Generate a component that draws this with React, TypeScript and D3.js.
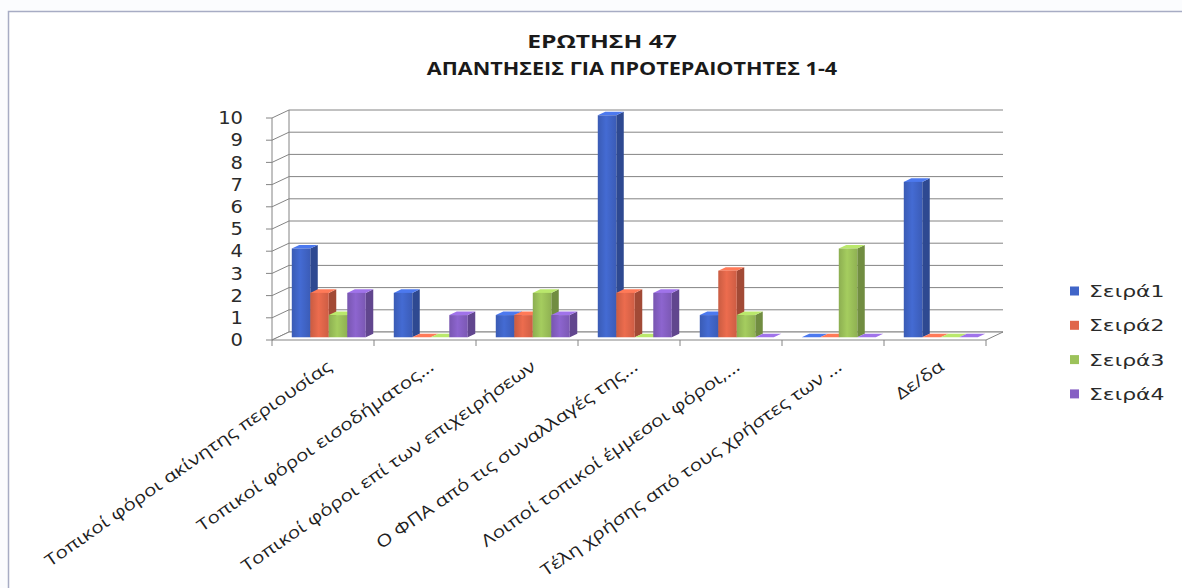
import React from "react";
import * as d3 from "d3";

const categories = [
  "Τοπικοί φόροι ακίνητης περιουσίας",
  "Τοπικοί φόροι εισοδήματος...",
  "Τοπικοί φόροι επί των επιχειρήσεων",
  "Ο ΦΠΑ από τις συναλλαγές της...",
  "Λοιποί τοπικοί έμμεσοι φόροι,...",
  "Τέλη χρήσης από τους χρήστες των ...",
  "Δε/δα",
];
const seriesNames = ["Σειρά1", "Σειρά2", "Σειρά3", "Σειρά4"];
const serie1 = [4, 2, 1, 10, 1, 0, 7];
const serie2 = [2, 0, 1, 2, 3, 0, 0];
const serie3 = [1, 0, 2, 0, 1, 4, 0];
const serie4 = [2, 1, 1, 2, 0, 0, 0];
const seriesValues = [serie1, serie2, serie3, serie4];
const yTicks = [0, 1, 2, 3, 4, 5, 6, 7, 8, 9, 10];
const titleLines = ["ΕΡΩΤΗΣΗ 47", "ΑΠΑΝΤΗΣΕΙΣ ΓΙΑ ΠΡΟΤΕΡΑΙΟΤΗΤΕΣ 1-4"];

const colors = ["#4065c8", "#e0664a", "#9cc25a", "#8660c4"];

const W = 1182;
const H = 588;
const DX = 17;
const DY = -8;
const F1 = 0.34; // bar front depth fraction
const F2 = 0.78; // bar back depth fraction

export default function App() {
  const x = d3.scaleBand<string>().domain(categories).range([272, 986]);
  const y = d3.scaleLinear().domain([0, 10]).range([340, 118]);
  const inner = d3
    .scaleBand<string>()
    .domain(seriesNames)
    .range([14, x.bandwidth() - 14]);

  const gridColor = "#848484";
  const [x0, x1] = x.range();

  const bars: JSX.Element[] = [];
  categories.forEach((c, ci) => {
    seriesNames.forEach((s, si) => {
      const v = seriesValues[si][ci];
      const bx = (x(c) as number) + (inner(s) as number) + DX * F1;
      const bw = inner.bandwidth();
      const yt = y(v) + DY * F1;
      const yb = y(0) + DY * F1;
      const ddx = DX * (F2 - F1);
      const ddy = DY * (F2 - F1);
      const col = d3.color(colors[si])!;
      const side = col.darker(0.9).formatHex();
      const top = col.brighter(0.5).formatHex();
      bars.push(
        <g key={`${ci}-${si}`}>
          <path
            d={`M${bx + bw},${yb} L${bx + bw + ddx},${yb + ddy} L${bx + bw + ddx},${yt + ddy} L${bx + bw},${yt} Z`}
            fill={side}
          />
          <path
            d={`M${bx},${yt} L${bx + ddx},${yt + ddy} L${bx + bw + ddx},${yt + ddy} L${bx + bw},${yt} Z`}
            fill={top}
          />
          <rect x={bx} y={yt} width={bw} height={Math.max(0, yb - yt)} fill={`url(#grad${si})`} />
        </g>
      );
    });
  });

  return (
    <svg
      width={W}
      height={H}
      style={{ position: "absolute", left: 0, top: 0, background: "#fbfcfe" }}
    >
      <defs>
        {colors.map((c, i) => {
          const col = d3.color(c)!;
          return (
            <linearGradient id={`grad${i}`} key={i} x1="0" x2="1" y1="0" y2="0">
              <stop offset="0" stopColor={col.darker(0.3).formatHex()} />
              <stop offset="0.45" stopColor={col.brighter(0.15).formatHex()} />
              <stop offset="1" stopColor={col.darker(0.25).formatHex()} />
            </linearGradient>
          );
        })}
      </defs>
      <rect x={8.5} y={11.5} width={W + 10} height={H} fill="#ffffff" stroke="#a7acc4" strokeWidth={1.5} />

      {/* title */}
      <text
        transform={`translate(602,48) scale(1.45,1)`}
        textAnchor="middle"
        fontFamily="'Open Sans', sans-serif"
        fontWeight="bold"
        fontSize={17}
        fill="#1a1a1a"
      >
        {titleLines[0]}
      </text>
      <text
        transform={`translate(632,75) scale(1.27,1)`}
        textAnchor="middle"
        fontFamily="'Open Sans', sans-serif"
        fontWeight="bold"
        fontSize={17}
        fill="#1a1a1a"
      >
        {titleLines[1]}
      </text>

      {/* back wall gridlines */}
      {yTicks.map((t) => (
        <g key={t}>
          <line x1={x0 + DX} x2={x1 + DX} y1={y(t) + DY} y2={y(t) + DY} stroke={gridColor} strokeWidth={1} />
          <line x1={x0} x2={x0 + DX} y1={y(t)} y2={y(t) + DY} stroke={gridColor} strokeWidth={1} />
          <line x1={x0 - 6} x2={x0} y1={y(t)} y2={y(t)} stroke={gridColor} strokeWidth={1} />
          <text
            transform={`translate(243,${y(t)}) scale(1.15,1)`}
            dy="0.36em"
            textAnchor="end"
            fontFamily="'DejaVu Sans', sans-serif"
            fontSize={17}
            fill="#2a2a2a"
          >
            {t}
          </text>
        </g>
      ))}
      {/* left wall edges */}
      <line x1={x0} x2={x0} y1={y(10)} y2={y(0)} stroke={gridColor} />
      <line x1={x0 + DX} x2={x0 + DX} y1={y(10) + DY} y2={y(0) + DY} stroke={gridColor} />
      {/* floor */}
      <path
        d={`M${x0},${y(0)} L${x1},${y(0)} L${x1 + DX},${y(0) + DY} L${x0 + DX},${y(0) + DY} Z`}
        fill="#ffffff"
        stroke={gridColor}
      />
      {categories.map((c) => (
        <line key={c} x1={x(c)} x2={x(c)} y1={y(0)} y2={y(0) + 6} stroke={gridColor} />
      ))}
      <line x1={x1} x2={x1} y1={y(0)} y2={y(0) + 6} stroke={gridColor} />

      {bars}

      {/* category labels */}
      {categories.map((c) => {
        const ax = (x(c) as number) + x.bandwidth() / 2 + 10;
        const ay = 369;
        return (
          <text
            key={c}
            transform={`translate(${ax},${ay}) rotate(-35) scale(1.25,1)`}
            textAnchor="end"
            fontFamily="'Open Sans', sans-serif"
            fontSize={16.5}
            fill="#1e1e1e"
          >
            {c}
          </text>
        );
      })}

      {/* legend */}
      {seriesNames.map((s, i) => {
        const ly = 291 + i * 34.3;
        return (
          <g key={s}>
            <rect x={1070} y={ly - 4.5} width={9} height={9} fill={colors[i]} />
            <text
              transform={`translate(1089,${ly}) scale(1.33,1)`}
              dy="0.36em"
              fontFamily="'DejaVu Sans', sans-serif"
              fontSize={16.5}
              fill="#2a2a2a"
            >
              {s}
            </text>
          </g>
        );
      })}
    </svg>
  );
}
